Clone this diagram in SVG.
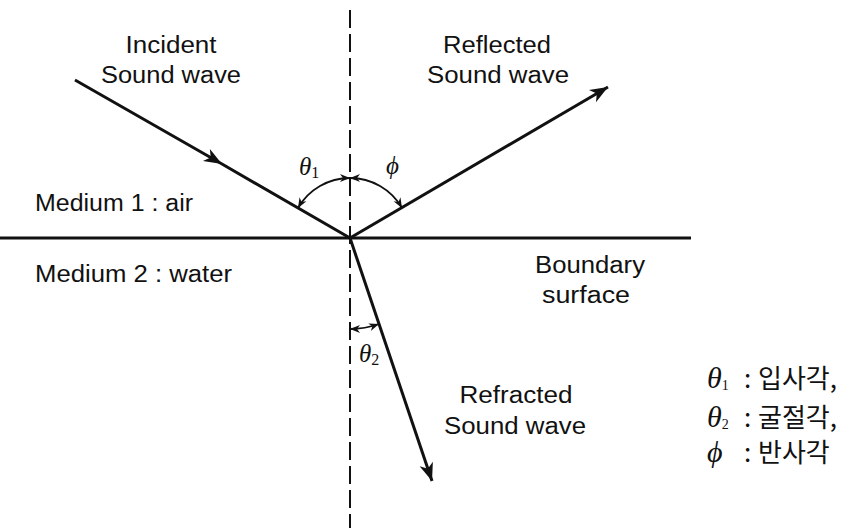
<svg xmlns="http://www.w3.org/2000/svg" width="852" height="528" viewBox="0 0 852 528">
<style>
.lbl{font-family:"Liberation Sans",Arial,sans-serif;font-size:23px;fill:#111}
.gr{font-family:"Liberation Serif","Times New Roman",serif;font-style:italic;fill:#111}
.sub{font-family:"Liberation Serif","Times New Roman",serif;fill:#111}
.ko{font-family:"Noto Sans CJK KR",sans-serif;font-size:26px;fill:#111}
.ray{stroke:#111;stroke-width:3;fill:none}
.arc{stroke:#111;stroke-width:1.8;fill:none}
</style>
<defs>
<marker id="big" markerUnits="userSpaceOnUse" markerWidth="24" markerHeight="16" viewBox="-20 -8 24 16" refX="0" refY="0" orient="auto">
<path d="M0,0 L-18,-7 L-13,0 L-18,7 z" fill="#111"/>
</marker>
<marker id="small" markerUnits="userSpaceOnUse" markerWidth="14" markerHeight="10" viewBox="-12 -5 14 10" refX="0" refY="0" orient="auto-start-reverse">
<path d="M0,0 L-10,-4 L-7,0 L-10,4 z" fill="#111"/>
</marker>
</defs>
<g id="connectors">
<line x1="350" y1="10" x2="350" y2="528" stroke="#111" stroke-width="2" stroke-dasharray="18,6"/>
<line id="boundary" x1="0" y1="238" x2="691" y2="238" class="ray"/>
<path id="incident" d="M75,80 L222,164 L350,238" class="ray" marker-mid="url(#big)"/>
<path id="reflected" d="M350,238 L608,87" class="ray" marker-end="url(#big)"/>
<path id="refracted" d="M350,238 L432,481" class="ray" marker-end="url(#big)"/>
<path id="arc-theta1" d="M298,208 A60,60 0 0 1 350,178" class="arc" marker-start="url(#small)" marker-end="url(#small)"/>
<path id="arc-phi" d="M350,178 A60,60 0 0 1 402,208" class="arc" marker-start="url(#small)" marker-end="url(#small)"/>
<path id="arc-theta2" d="M350,329 A91,91 0 0 0 379,324" class="arc" marker-start="url(#small)" marker-end="url(#small)"/>
</g>
<g id="incident-label">
<text class="lbl" x="171" y="53" text-anchor="middle" textLength="91" lengthAdjust="spacingAndGlyphs">Incident</text>
<text class="lbl" x="171" y="83" text-anchor="middle" textLength="140" lengthAdjust="spacingAndGlyphs">Sound wave</text>
</g>
<g id="reflected-label">
<text class="lbl" x="497" y="53" text-anchor="middle" textLength="108" lengthAdjust="spacingAndGlyphs">Reflected</text>
<text class="lbl" x="498" y="83" text-anchor="middle" textLength="142" lengthAdjust="spacingAndGlyphs">Sound wave</text>
</g>
<g id="medium1">
<text class="lbl" x="35" y="211" textLength="158" lengthAdjust="spacingAndGlyphs">Medium 1 : air</text>
</g>
<g id="medium2">
<text class="lbl" x="35" y="282" textLength="197" lengthAdjust="spacingAndGlyphs">Medium 2 : water</text>
</g>
<g id="boundary-label">
<text class="lbl" x="590" y="273" text-anchor="middle" textLength="110" lengthAdjust="spacingAndGlyphs">Boundary</text>
<text class="lbl" x="586" y="303" text-anchor="middle" textLength="88" lengthAdjust="spacingAndGlyphs">surface</text>
</g>
<g id="refracted-label">
<text class="lbl" x="516" y="403" text-anchor="middle" textLength="113" lengthAdjust="spacingAndGlyphs">Refracted</text>
<text class="lbl" x="515" y="434" text-anchor="middle" textLength="142" lengthAdjust="spacingAndGlyphs">Sound wave</text>
</g>
<g id="angle-labels">
<text class="gr" x="299" y="175" font-size="25">θ<tspan class="sub" font-style="normal" font-size="16" dy="3">1</tspan></text>
<text class="gr" x="386" y="174" font-size="25">ϕ</text>
<text class="gr" x="359" y="362" font-size="25">θ<tspan class="sub" font-style="normal" font-size="16" dy="3">2</tspan></text>
</g>
<g id="legend">
<text class="gr" x="707" y="388" font-size="30">θ<tspan class="sub" font-style="normal" font-size="14" dy="2">1</tspan></text>
<text class="ko" x="744" y="388">:</text>
<text class="ko" x="758" y="388">입사각,</text>
<text class="gr" x="707" y="427" font-size="30">θ<tspan class="sub" font-style="normal" font-size="14" dy="2">2</tspan></text>
<text class="ko" x="744" y="427">:</text>
<text class="ko" x="758" y="427">굴절각,</text>
<text class="gr" x="707" y="462" font-size="30">ϕ</text>
<text class="ko" x="744" y="462">:</text>
<text class="ko" x="758" y="462">반사각</text>
</g>
</svg>
